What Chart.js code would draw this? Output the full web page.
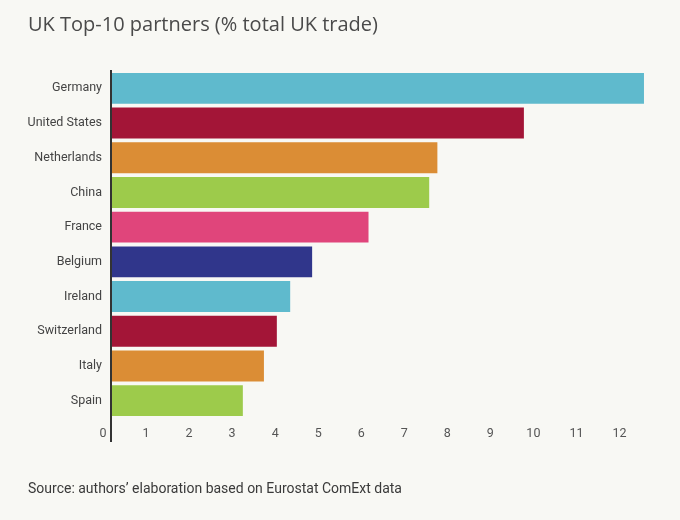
<!DOCTYPE html>
<html>
<head>
<meta charset="utf-8">
<script src="https://cdn.jsdelivr.net/npm/chart.js@4/dist/chart.umd.min.js"></script>
<style>
    html, body { margin: 0; padding: 0; background: #f8f8f4; }
    #wrap { position: relative; width: 680px; height: 520px; }
    #title {
        position: absolute; left: 28px; top: 14px;
        font: 20px/20px 'Open Sans', sans-serif; color: #4a4a4a; white-space: nowrap;
    }
    #source {
        position: absolute; left: 28px; top: 481px;
        font: 14px/14px Roboto, sans-serif; color: #3a3a3a; white-space: nowrap;
    }
    #chart { position: absolute; left: 0; top: 0; }
</style>
</head>
<body>
<div id="wrap">
    <canvas id="chart" width="680" height="520"></canvas>
    <div id="title">UK Top-10 partners (% total UK trade)</div>
    <div id="source">Source: authors’ elaboration based on Eurostat ComExt data</div>
</div>
<script>
// Partner countries, share of total UK trade (%)
const countries = ['Germany', 'United States', 'Netherlands', 'China', 'France',
                   'Belgium', 'Ireland', 'Switzerland', 'Italy', 'Spain'];
const shares = [12.36, 9.57, 7.56, 7.37, 5.96, 4.65, 4.14, 3.83, 3.53, 3.04];
const barColors = ['#5fbacd', '#a31537', '#db8d35', '#9dcb4b', '#e0457b',
                   '#30368b', '#5fbacd', '#a31537', '#db8d35', '#9dcb4b'];
const xTicks = [0, 1, 2, 3, 4, 5, 6, 7, 8, 9, 10, 11, 12];

// Draws the vertical axis line, running a bit below the last bar like the original
const axisLinePlugin = {
    id: 'axisLine',
    afterDatasetsDraw(chart) {
        const ctx = chart.ctx;
        const x = chart.scales.x.getPixelForValue(0) - 1;
        ctx.save();
        ctx.strokeStyle = '#333333';
        ctx.lineWidth = 2;
        ctx.beginPath();
        ctx.moveTo(x, chart.chartArea.top - 1);
        ctx.lineTo(x, chart.chartArea.bottom + 24);
        ctx.stroke();
        ctx.restore();
    }
};

new Chart(document.getElementById('chart'), {
    type: 'bar',
    data: {
        labels: countries,
        datasets: [{
            data: shares,
            backgroundColor: barColors,
            borderWidth: 0,
            categoryPercentage: 1,
            barPercentage: 0.89
        }]
    },
    options: {
        indexAxis: 'y',
        responsive: false,
        animation: false,
        layout: { padding: { top: 71, right: 30, bottom: 71, left: 0 } },
        plugins: {
            legend: { display: false },
            tooltip: { enabled: false }
        },
        scales: {
            x: {
                min: 0,
                max: 12.5,
                afterBuildTicks: (scale) => { scale.ticks = xTicks.map(v => ({ value: v })); },
                grid: { display: false, drawTicks: false },
                border: { display: false },
                ticks: {
                    padding: 8,
                    labelOffset: -9,
                    color: '#555555',
                    font: { family: 'Roboto, sans-serif', size: 12.5 }
                }
            },
            y: {
                afterFit: (scale) => { scale.width = 112; },
                grid: { display: false, drawTicks: false },
                border: { display: false },
                ticks: {
                    padding: 10,
                    color: '#444444',
                    font: { family: 'Roboto, sans-serif', size: 12.5 }
                }
            }
        }
    },
    plugins: [axisLinePlugin]
});
</script>
</body>
</html>
